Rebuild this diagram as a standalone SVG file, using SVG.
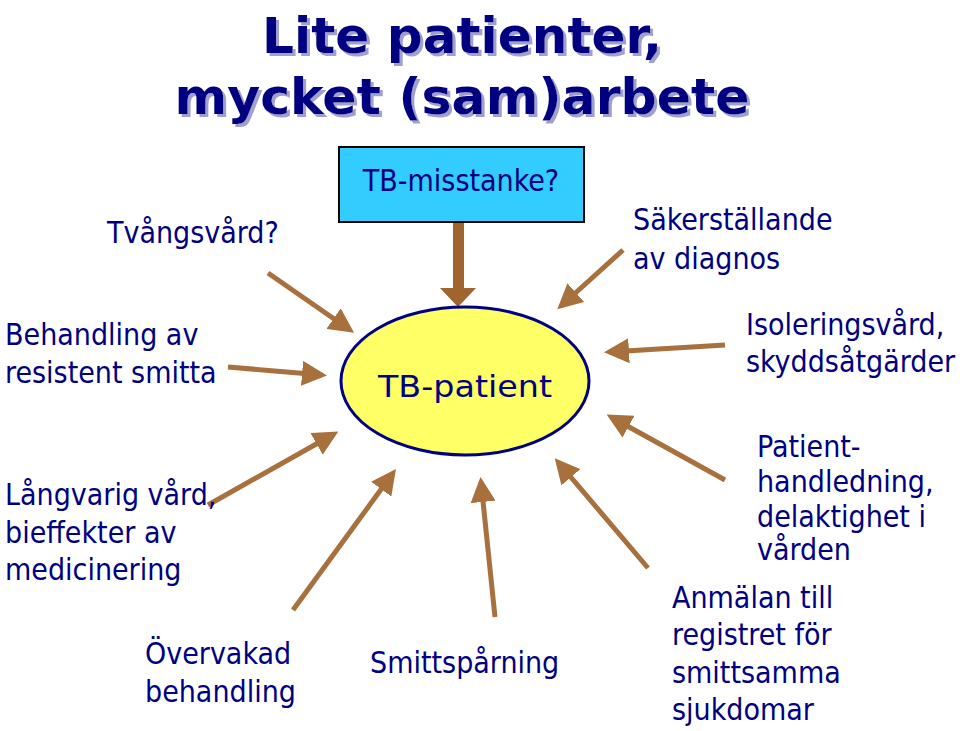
<svg xmlns="http://www.w3.org/2000/svg" width="960" height="731" viewBox="0 0 960 731">
<style>
text{font-family:"DejaVu Sans Condensed","DejaVu Sans",sans-serif;font-stretch:condensed;fill:#000080;font-size:30px}
.t{font-family:"DejaVu Sans",Verdana,sans-serif;font-stretch:normal;font-weight:bold;font-size:50px;text-anchor:middle;filter:url(#sh)}
.c{stroke:#A8703C;stroke-width:5;fill:none;marker-end:url(#ah)}
</style>
<defs>
<marker id="ah" markerWidth="5" markerHeight="5" refX="4" refY="2.5" orient="auto" markerUnits="strokeWidth"><path d="M0,0 L5,2.5 L0,5 Z" fill="#A8703C"/></marker>
<filter id="sh" x="-5%" y="-20%" width="110%" height="140%"><feDropShadow dx="3" dy="3" stdDeviation="0" flood-color="#a0a0d0"/></filter>
</defs>
<rect width="960" height="731" fill="#fff"/>
<g id="title">
<text class="t" x="462" y="53" textLength="400" lengthAdjust="spacingAndGlyphs">Lite patienter,</text>
<text class="t" x="462" y="114" textLength="575" lengthAdjust="spacingAndGlyphs">mycket (sam)arbete</text>
</g>
<g id="connectors">
<path class="c" d="M268,273 L350,330"/>
<path class="c" d="M228,367 L322,375"/>
<path class="c" d="M208,505 L334,434"/>
<path class="c" d="M293,610 L393,473"/>
<path class="c" d="M495,617 L481,482"/>
<path class="c" d="M648,568 L558,462"/>
<path class="c" d="M725,480 L611,417"/>
<path class="c" d="M725,345 L609,352"/>
<path class="c" d="M623,250 L561,306"/>
<path d="M453,222 H464 V288 H476 L458,307 L440,288 H453 Z" fill="#A0652E"/>
</g>
<g id="tb-misstanke">
<rect x="339" y="147" width="245" height="75" fill="#33CCFF" stroke="#000" stroke-width="2"/>
<text x="461" y="191" font-size="26" text-anchor="middle">TB-misstanke?</text>
</g>
<g id="tb-patient">
<ellipse cx="465" cy="381" rx="124" ry="74" fill="#FFFF66" stroke="#000080" stroke-width="3"/>
<text x="465" y="397" font-size="38" text-anchor="middle" textLength="174" lengthAdjust="spacingAndGlyphs">TB-patient</text>
</g>
<g id="labels">
<text x="107" y="243">Tvångsvård?</text>
<text x="633" y="230">Säkerställande</text>
<text x="633" y="269">av diagnos</text>
<text x="5" y="345">Behandling av</text>
<text x="5" y="383">resistent smitta</text>
<text x="5" y="505">Långvarig vård,</text>
<text x="5" y="543">bieffekter av</text>
<text x="5" y="580">medicinering</text>
<text x="145" y="664">Övervakad</text>
<text x="145" y="702">behandling</text>
<text x="370" y="673">Smittspårning</text>
<text x="672" y="608">Anmälan till</text>
<text x="672" y="645">registret för</text>
<text x="672" y="683">smittsamma</text>
<text x="672" y="720">sjukdomar</text>
<text x="757" y="457" font-size="26">Patient-</text>
<text x="757" y="492" font-size="26">handledning,</text>
<text x="757" y="527" font-size="26">delaktighet i</text>
<text x="757" y="560" font-size="26">vården</text>
<text x="746" y="335">Isoleringsvård,</text>
<text x="746" y="372">skyddsåtgärder</text>
</g>
</svg>
